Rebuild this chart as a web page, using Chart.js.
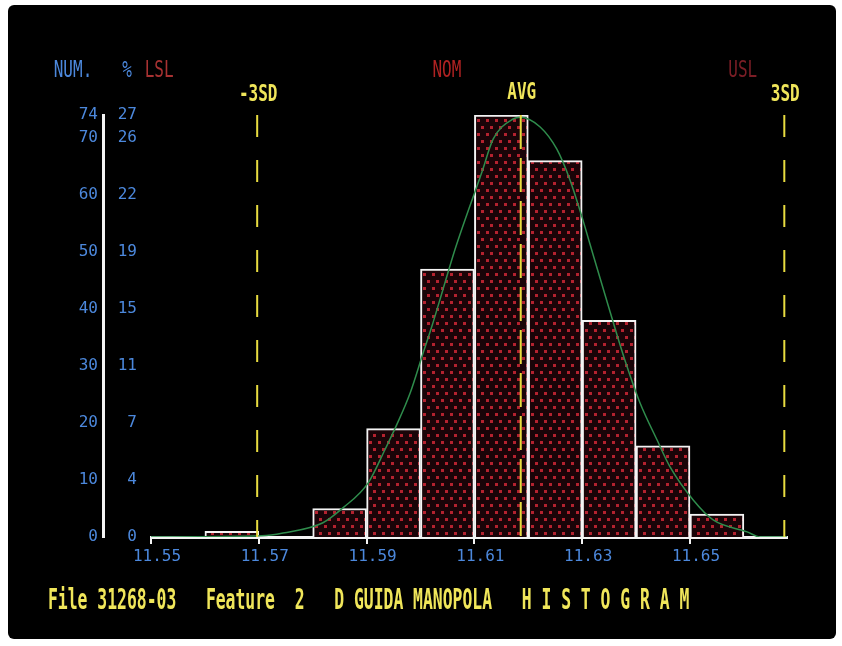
<!DOCTYPE html>
<html>
<head>
<meta charset="utf-8">
<script src="https://cdn.jsdelivr.net/npm/chart.js@4.4.0/dist/chart.umd.min.js"></script>
<style>
  html, body { margin: 0; background: #fff; }
  #screen { position: absolute; left: 8px; top: 5px; width: 828px; height: 634px; background: #000; border-radius: 6px; }
</style>
</head>
<body>
<div id="screen"><canvas id="histo"></canvas></div>
<script>
// histogram bins (0.01 wide) and counts
const binCenters = [11.565, 11.575, 11.585, 11.595, 11.605, 11.615, 11.625, 11.635, 11.645, 11.655];
const counts = [1, 0, 5, 19, 47, 74, 66, 38, 16, 4];

// fitted curve
const curveX = [11.550, 11.5706, 11.5745, 11.5819, 11.5856, 11.5903, 11.5934, 11.5956, 11.5981, 11.6005,
                11.6021, 11.6042, 11.6064, 11.6114, 11.6135, 11.6172, 11.6185, 11.6222, 11.6253, 11.6277,
                11.6300, 11.6314, 11.6352, 11.6379, 11.6407, 11.6439, 11.6463, 11.6506, 11.6543, 11.6606,
                11.6630, 11.668];
const curveY = [0, 0.2, 0.7, 2.5, 5.1, 9.5, 15.3, 19.7, 25.3, 32.3,
                36.9, 43.5, 50.4, 64.0, 69.8, 73.3, 73.6, 71.9, 68.0, 62.7,
                56.0, 51.5, 39.4, 31.1, 23.6, 17.0, 12.3, 6.5, 3.0, 0.9,
                0, 0];

// -3SD, average, +3SD
const markerValues = [11.5697, 11.6186, 11.6675];
const markerLabels = ["-3SD", "AVG", "3SD"];

const xTicks = [11.55, 11.57, 11.59, 11.61, 11.63, 11.65];
const numTicks = [0, 10, 20, 30, 40, 50, 60, 70, 74];
const pctTicks = [0, 4, 7, 11, 15, 19, 22, 26, 27];

const titleText = "File 31268-03   Feature  2   D GUIDA MANOPOLA   H I S T O G R A M";

const BLUE = "#4c88dc";
const YELLOW = "#f0e65a";
const MONO = '"DejaVu Sans Mono", monospace';

const canvas = document.getElementById("histo");
const ctx = canvas.getContext("2d");

// red dots on black, like the screen fill
function dotFill() {
    const c = document.createElement("canvas");
    c.width = 9;
    c.height = 14;
    const g = c.getContext("2d");
    g.fillStyle = "#1a0408";
    g.fillRect(0, 0, 9, 14);
    g.fillStyle = "#b4222f";
    g.fillRect(1, 2, 3, 3);
    g.fillRect(5, 9, 3, 3);
    return ctx.createPattern(c, "repeat");
}

// tall narrow screen lettering
function screenText(c, s, x, y, color, weight, size, stretch, align) {
    c.save();
    c.font = weight + " " + size + "px " + MONO;
    c.fillStyle = color;
    c.textAlign = align;
    c.textBaseline = "middle";
    c.translate(x, y);
    c.scale(1, stretch);
    c.fillText(s, 0, 0);
    c.restore();
}

const screenLabels = {
    id: "screenLabels",
    afterDraw(chart) {
        const c = chart.ctx;
        const x = chart.scales.x;
        screenText(c, "NUM.", 65, 66, BLUE, "normal", 16, 1.4, "center");
        screenText(c, "%", 119, 66, BLUE, "normal", 16, 1.4, "center");
        screenText(c, "LSL", x.getPixelForValue(11.5515), 66, "#a83232", "normal", 16, 1.4, "center");
        screenText(c, "NOM", x.getPixelForValue(11.6049), 66, "#b02222", "normal", 16, 1.4, "center");
        screenText(c, "USL", x.getPixelForValue(11.6598), 66, "#7c1e26", "normal", 16, 1.4, "center");
        markerValues.forEach((v, i) => {
            screenText(c, markerLabels[i], x.getPixelForValue(v) + 1, i === 1 ? 88 : 90, YELLOW, "bold", 16, 1.45, "center");
        });
        screenText(c, titleText, 40, 597, YELLOW, "bold", 16.4, 1.7, "left");
    }
};

const markerSets = markerValues.map((v, i) => ({
    type: "line",
    data: [{x: v, y: 74}, {x: v, y: 0}],
    borderColor: "#e8dc40",
    borderWidth: 2,
    borderDash: i === 1 ? [34, 9] : [22, 23],
    pointRadius: 0,
    order: 0
}));

new Chart(canvas, {
    type: "bar",
    data: {
        datasets: [
            ...markerSets,
            {
                type: "line",
                data: curveX.map((x, i) => ({x: x, y: curveY[i]})),
                borderColor: "#2f8c4c",
                borderWidth: 1.5,
                cubicInterpolationMode: "monotone",
                pointRadius: 0,
                order: 1
            },
            {
                data: binCenters.map((x, i) => ({x: x, y: counts[i]})),
                backgroundColor: dotFill(),
                borderColor: "#f4f4f4",
                borderWidth: 2,
                barPercentage: 1,
                categoryPercentage: 1,
                order: 2
            }
        ]
    },
    options: {
        responsive: true,
        maintainAspectRatio: false,
        animation: false,
        layout: { padding: { left: 40, right: 49, top: 110, bottom: 62 } },
        plugins: { legend: { display: false }, tooltip: { enabled: false } },
        scales: {
            x: {
                type: "linear",
                min: 11.55,
                max: 11.668,
                offset: false,
                afterBuildTicks: s => { s.ticks = xTicks.map(v => ({value: v})); },
                afterFit: s => { s.height = 40; },
                grid: { display: true, drawOnChartArea: false, offset: false, color: "#f4f4f4", lineWidth: 2, tickLength: 7 },
                border: { color: "#f4f4f4", width: 3 },
                ticks: {
                    color: BLUE,
                    font: { family: MONO, size: 16 },
                    padding: 3,
                    labelOffset: 6,
                    autoSkip: false,
                    maxRotation: 0,
                    callback: v => v.toFixed(2)
                }
            },
            y: {
                position: "left",
                weight: 1,
                min: 0,
                max: 74,
                afterBuildTicks: s => { s.ticks = numTicks.map(v => ({value: v})); },
                afterFit: s => { s.width = 55; },
                grid: { display: false, drawTicks: false },
                border: { color: "#f4f4f4", width: 3 },
                ticks: { color: BLUE, font: { family: MONO, size: 16 }, padding: 5 }
            },
            y2: {
                position: "left",
                weight: 0,
                min: 0,
                max: 74,
                afterBuildTicks: s => { s.ticks = numTicks.map(v => ({value: v})); },
                afterFit: s => { s.width = 48; },
                grid: { display: false, drawTicks: false },
                border: { display: false },
                ticks: {
                    color: BLUE,
                    font: { family: MONO, size: 16 },
                    padding: 14,
                    callback: v => pctTicks[numTicks.indexOf(v)]
                }
            }
        }
    },
    plugins: [screenLabels]
});
</script>
</body>
</html>
